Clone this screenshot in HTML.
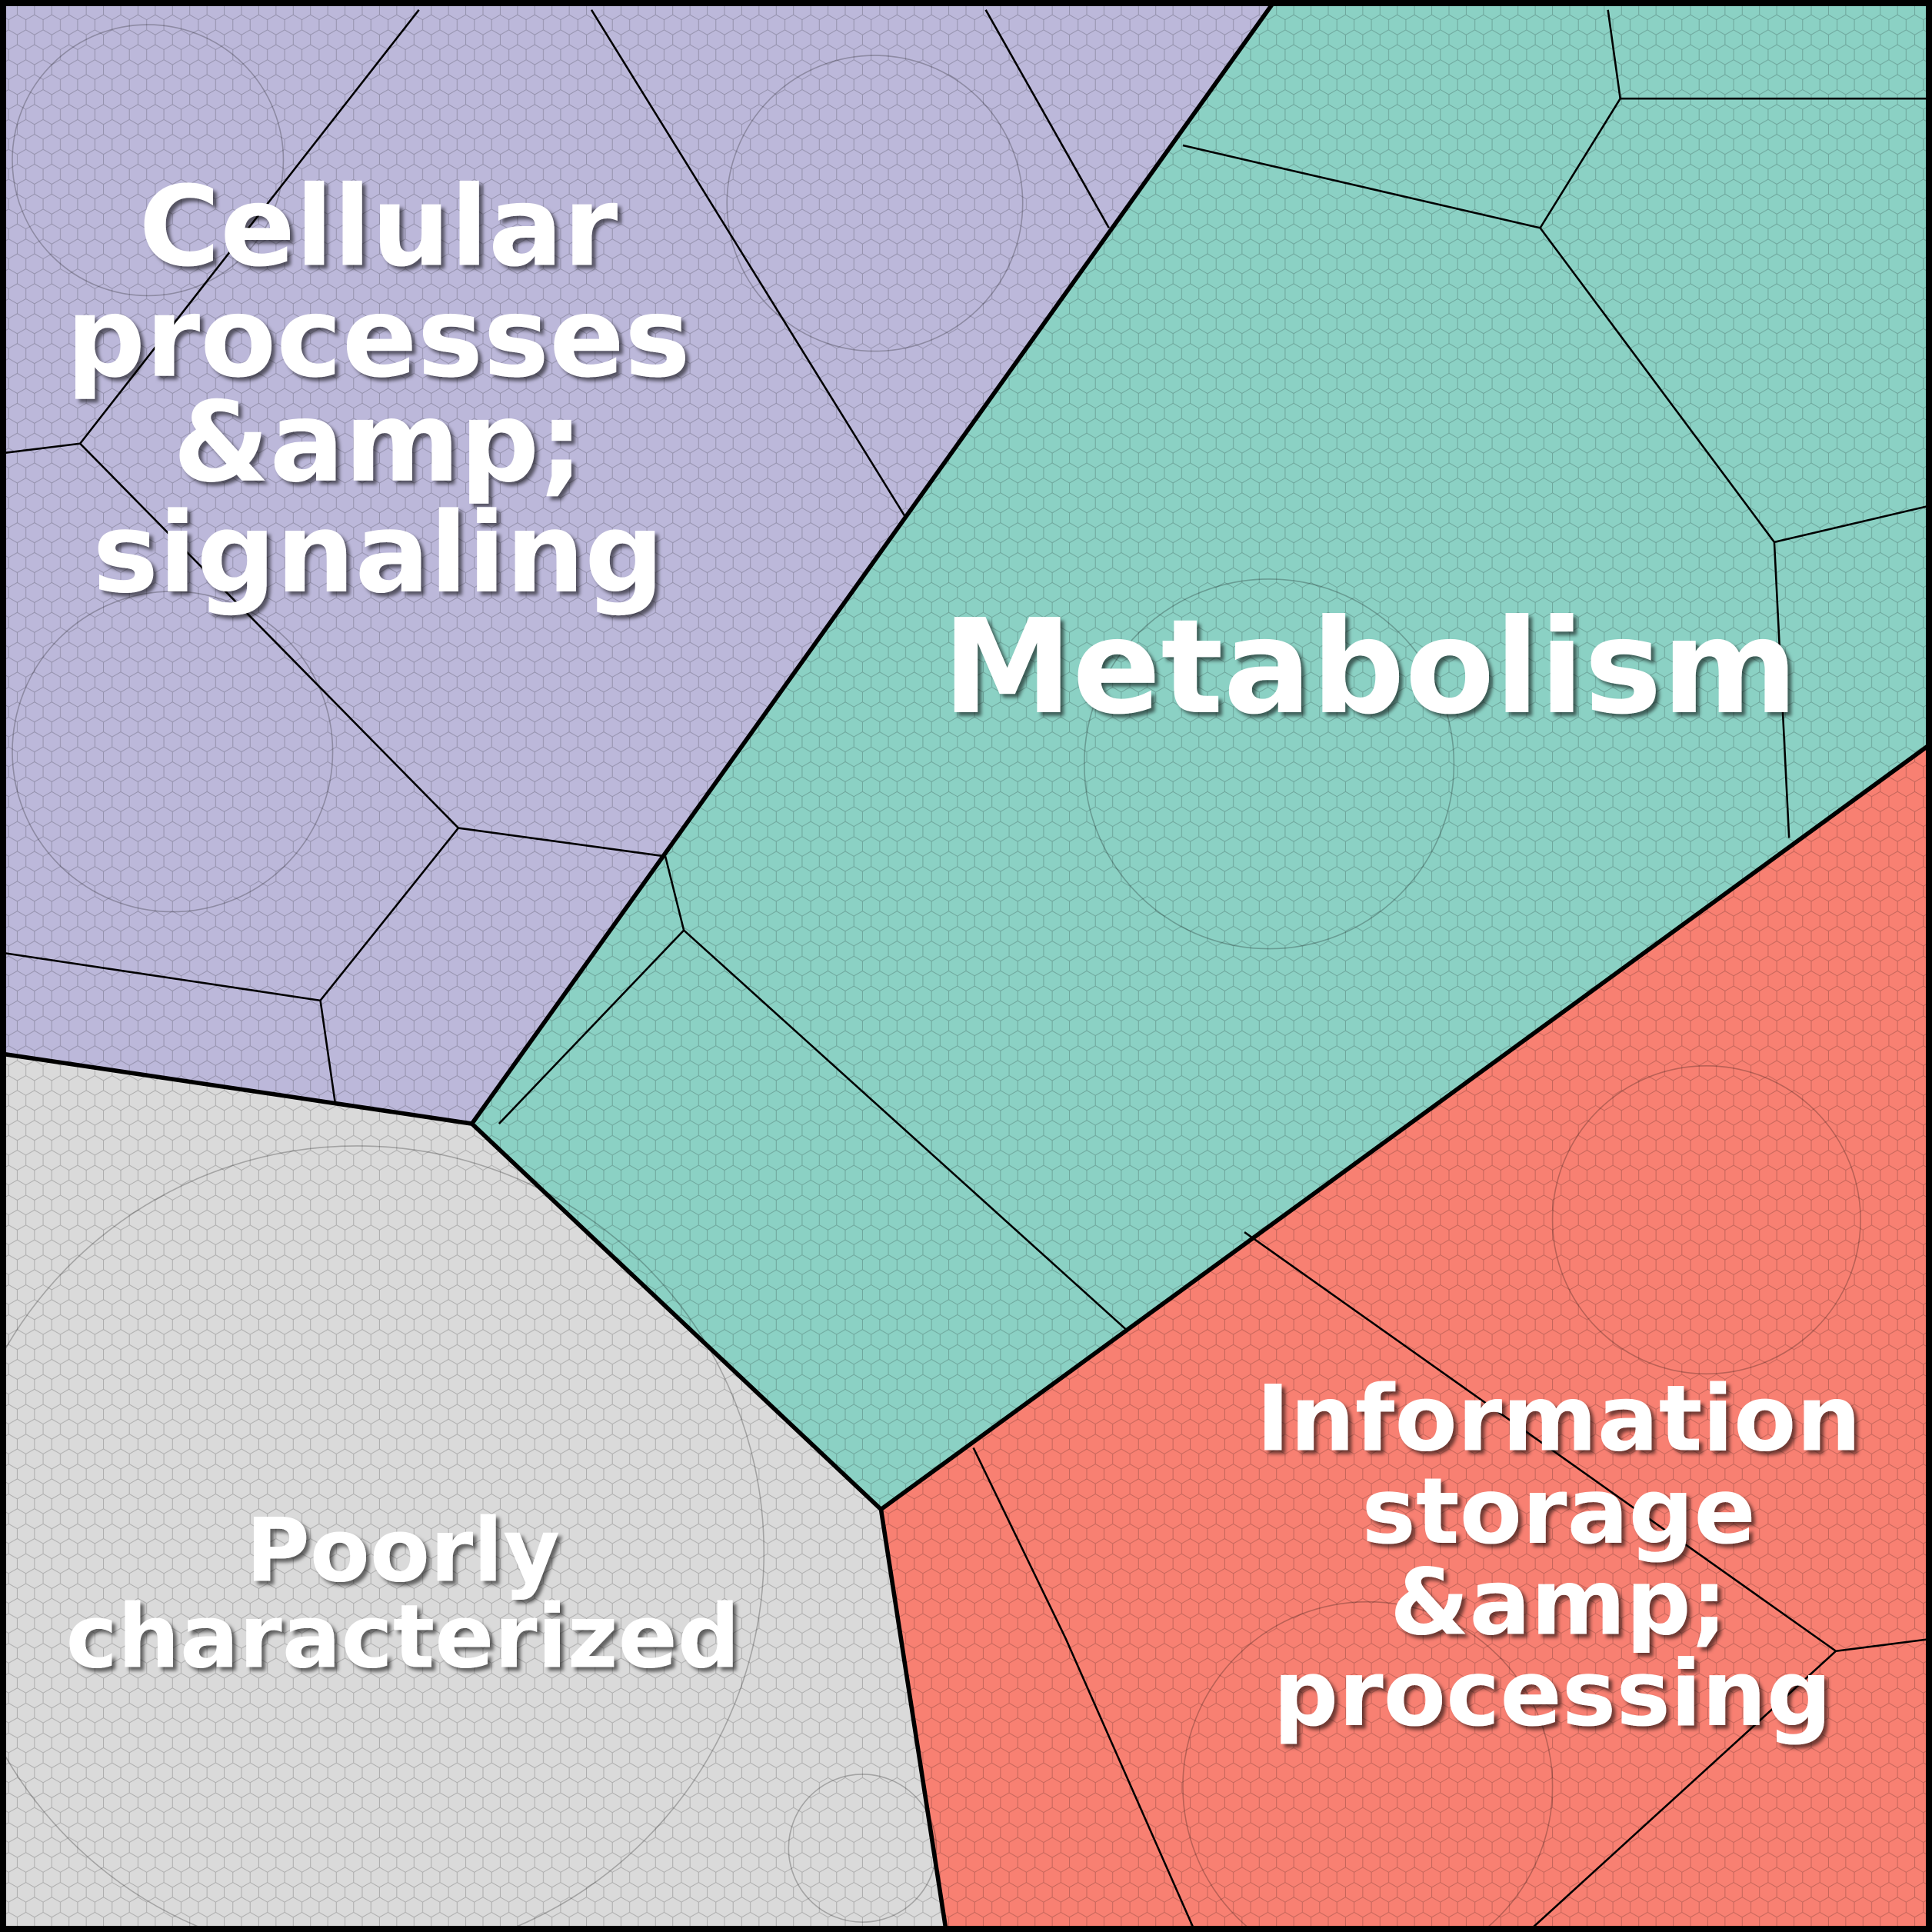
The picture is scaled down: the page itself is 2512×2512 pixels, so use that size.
<!DOCTYPE html>
<html><head><meta charset="utf-8"><style>
html,body{margin:0;padding:0;background:#fff}
svg{display:block}
text{font-family:"DejaVu Sans","Liberation Sans",sans-serif;font-weight:bold;fill:#fff;text-anchor:middle}
</style></head><body>
<svg width="2512" height="2512" viewBox="0 0 1568 1568" xmlns="http://www.w3.org/2000/svg">
<defs>
<pattern id="hex" width="14" height="24.25" patternUnits="userSpaceOnUse">
<path d="M0,4 L7,0 L14,4 L14,12 L7,16 L0,12 Z M7,16 L7,24.25" fill="none" stroke="#000" stroke-opacity="0.22" stroke-width="0.6"/>
</pattern>
<filter id="sh" x="-10%" y="-10%" width="120%" height="120%"><feDropShadow dx="3" dy="3" stdDeviation="1.5" flood-color="#000" flood-opacity="0.55"/></filter>
</defs>
<polygon points="0,0 1035,0 383,912 0,855" fill="#bcb8da"/>
<polygon points="1035,0 1568,0 1568,603 715,1225 383,912" fill="#8bd1c4"/>
<polygon points="1568,603 1568,1568 768,1568 715,1225" fill="#f88072"/>
<polygon points="0,855 383,912 715,1225 768,1568 0,1568" fill="#dadada"/>
<rect width="1568" height="1568" fill="url(#hex)"/>
<g fill="none" stroke="#000" stroke-opacity="0.25" stroke-width="1">
<circle cx="120" cy="130" r="110"/><circle cx="710" cy="165" r="120"/><circle cx="140" cy="610" r="130"/>
<circle cx="1030" cy="620" r="150"/><circle cx="1385" cy="990" r="125"/><circle cx="1110" cy="1450" r="150"/>
<circle cx="290" cy="1260" r="330"/><circle cx="700" cy="1500" r="60"/>
</g>
<g fill="none" stroke="#000" stroke-width="1.6">
<path d="M65,360 L0,368 M65,360 L340,8 M65,360 L372,672 M372,672 L540,695 M372,672 L260,812 M260,812 L0,773 M260,812 L272,895 M480,8 L735,420 M800,8 L900,185"/>
<path d="M960,118 L1250,185 M1250,185 L1315,80 L1305,8 M1315,80 L1568,80 M1250,185 L1440,440 M1440,440 L1568,410 M1440,440 L1452,680 M540,695 L555,755 L915,1080 M555,755 L405,912"/>
<path d="M1010,1000 L1490,1340 M1490,1340 L1568,1330 M1490,1340 L1240,1568 M790,1175 L865,1330 L970,1568"/>
</g>
<g fill="none" stroke="#000" stroke-width="3.5">
<path d="M1035,0 L383,912 L0,855 M383,912 L715,1225 L768,1568 M715,1225 L1568,603"/>
</g>
<rect x="2.5" y="2.5" width="1563" height="1563" fill="none" stroke="#000" stroke-width="5"/>
<g filter="url(#sh)">
<text x="307" y="215" font-size="90">Cellular</text>
<text x="307" y="305" font-size="90">processes</text>
<text x="307" y="390" font-size="90">&amp;amp;</text>
<text x="307" y="480" font-size="90">signaling</text>
<text x="1112" y="578" font-size="106">Metabolism</text>
<text x="327" y="1283" font-size="71">Poorly</text>
<text x="327" y="1353" font-size="71">characterized</text>
<text x="1265" y="1177" font-size="74">Information</text>
<text x="1265" y="1252" font-size="74">storage</text>
<text x="1265" y="1326" font-size="74">&amp;amp;</text>
<text x="1260" y="1400" font-size="74">processing</text>
</g>
</svg>
</body></html>
